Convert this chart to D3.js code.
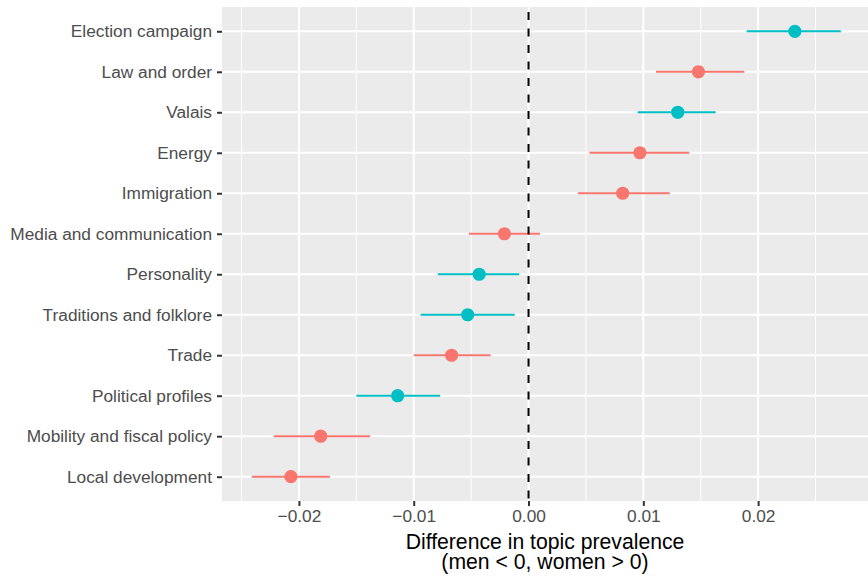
<!DOCTYPE html>
<html><head><meta charset="utf-8">
<script src="https://cdn.jsdelivr.net/npm/d3@7"></script>
<style>body{margin:0;background:#fff}svg{display:block}text{font-family:"Liberation Sans",Arial,Helvetica,sans-serif}</style>
</head><body><svg id="c" width="868" height="576"></svg>
<script>
const topics = ["Election campaign","Law and order","Valais","Energy","Immigration","Media and communication","Personality","Traditions and folklore","Trade","Political profiles","Mobility and fiscal policy","Local development"];
const estimate = [0.0232,0.0148,0.0130,0.0097,0.0082,-0.0021,-0.0043,-0.0053,-0.0067,-0.0114,-0.0181,-0.0207];
const lower = [0.0190,0.0111,0.0095,0.0053,0.0043,-0.0052,-0.0079,-0.0094,-0.0100,-0.0150,-0.0222,-0.0241];
const upper = [0.0272,0.0188,0.0163,0.0140,0.0123,0.0010,-0.0008,-0.0012,-0.0033,-0.0077,-0.0138,-0.0173];
const group = ["b","a","b","a","a","a","b","b","a","b","a","a"];
const xDomain = [-0.0267, 0.02957];
const xTicks = [-0.02,-0.01,0.00,0.01,0.02];
const xMinor = [-0.025,-0.015,-0.005,0.005,0.015,0.025];
const xTickLabels = ["\u22120.02","\u22120.01","0.00","0.01","0.02"];

const W=868,H=576, L=222, R=868, T=7, B=501;
const svg=d3.select("#c");
const x=d3.scaleLinear().domain(xDomain).range([L,R]);
const y=d3.scalePoint().domain(topics).range([T,B]).padding(0.6);
const color=d3.scaleOrdinal().domain(["a","b"]).range(["#F8766D","#00BFC4"]);

svg.append("rect").attr("x",L).attr("y",T).attr("width",R-L).attr("height",B-T).attr("fill","#EBEBEB");
const g=svg.append("g");
g.selectAll(".minor").data(xMinor).join("line").attr("x1",d=>x(d)).attr("x2",d=>x(d)).attr("y1",T).attr("y2",B).attr("stroke","#fff").attr("stroke-width",1);
g.selectAll(".majx").data(xTicks).join("line").attr("x1",d=>x(d)).attr("x2",d=>x(d)).attr("y1",T).attr("y2",B).attr("stroke","#fff").attr("stroke-width",2);
g.selectAll(".majy").data(topics).join("line").attr("x1",L).attr("x2",R).attr("y1",d=>y(d)).attr("y2",d=>y(d)).attr("stroke","#fff").attr("stroke-width",2);

const data=topics.map((t,i)=>({t,e:estimate[i],l:lower[i],u:upper[i],g:group[i]}));
svg.selectAll(".err").data(data).join("line").attr("x1",d=>x(d.l)).attr("x2",d=>x(d.u)).attr("y1",d=>y(d.t)).attr("y2",d=>y(d.t)).attr("stroke",d=>color(d.g)).attr("stroke-width",2);
svg.selectAll(".pt").data(data).join("circle").attr("cx",d=>x(d.e)).attr("cy",d=>y(d.t)).attr("r",6.6).attr("fill",d=>color(d.g));
svg.append("line").attr("x1",x(0)).attr("x2",x(0)).attr("y1",T).attr("y2",B).attr("stroke","#000").attr("stroke-width",2).attr("stroke-dasharray","8,8.5").attr("stroke-dashoffset",11.5);

// axes
const ya=svg.append("g").attr("transform",`translate(${L},0)`).call(d3.axisLeft(y).tickSize(5).tickPadding(5));
const xa=svg.append("g").attr("transform",`translate(0,${B})`).call(d3.axisBottom(x).tickValues(xTicks).tickFormat((d,i)=>xTickLabels[i]).tickSize(5).tickPadding(4));
[ya,xa].forEach(a=>{a.select(".domain").remove();a.selectAll(".tick line").attr("stroke","#333").attr("stroke-width",2);a.selectAll("text").attr("fill","#4D4D4D").attr("font-size",17.3).style("font-family",'"Liberation Sans",Arial,sans-serif');});
svg.append("text").attr("x",(L+R)/2).attr("y",549).attr("text-anchor","middle").attr("font-size",21.2).attr("fill","#000").text("Difference in topic prevalence");
svg.append("text").attr("x",(L+R)/2).attr("y",569).attr("text-anchor","middle").attr("font-size",21.2).attr("fill","#000").text("(men < 0, women > 0)");
</script></body></html>
